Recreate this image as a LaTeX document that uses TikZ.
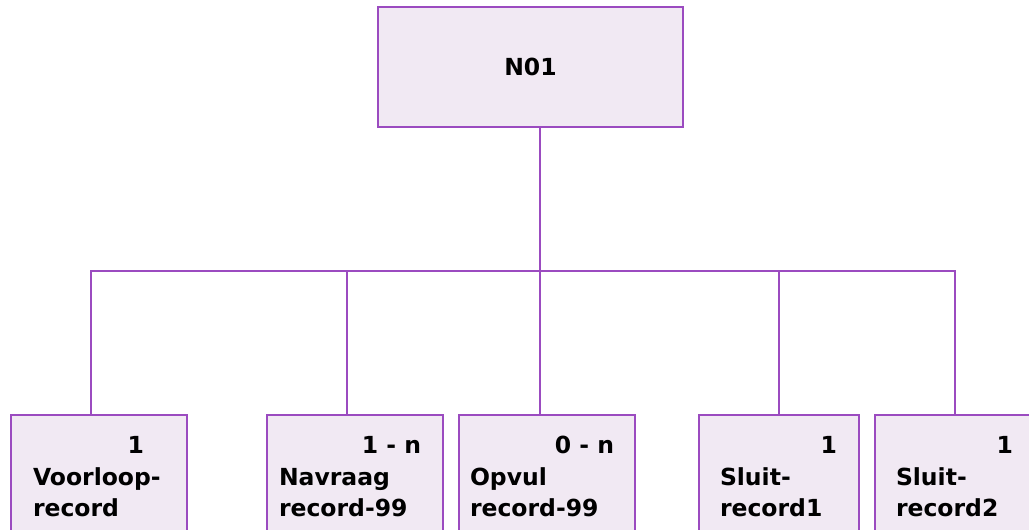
\documentclass[tikz,border=0pt]{standalone}
\usepackage{fontspec}
\setmainfont{DejaVu Sans}
\definecolor{lnpurple}{RGB}{155,75,192}
\definecolor{boxfill}{RGB}{241,233,243}
\begin{document}
\begin{tikzpicture}[x=1pt,y=-1pt,
  recbox/.style={draw=lnpurple,fill=boxfill,line width=2.4pt,inner sep=0pt,outer sep=0pt,rectangle},
  conn/.style={draw=lnpurple,line width=2.4pt},
  lbl/.style={inner sep=0pt,outer sep=0pt,font=\bfseries\fontsize{23.5}{23.5}\selectfont,text=black},
  num/.style={lbl,anchor=base east},
  nm/.style={lbl,anchor=base west}]
\useasboundingbox (0,0) rectangle (1029,530);
\clip (0,0) rectangle (1029,530);
% top box
\node[recbox,minimum width=305pt,minimum height=120pt,font=\bfseries\fontsize{23.5}{23.5}\selectfont] (top) at (530.5,67) {N01};
% bottom boxes
\node[recbox,minimum width=176pt,minimum height=130pt] (b1) at (99,480) {};
\node[recbox,minimum width=176pt,minimum height=130pt] (b2) at (355,480) {};
\node[recbox,minimum width=176pt,minimum height=130pt] (b3) at (547,480) {};
\node[recbox,minimum width=160pt,minimum height=130pt] (b4) at (779,480) {};
\node[recbox,minimum width=160pt,minimum height=130pt] (b5) at (955,480) {};
% connectors
\coordinate (bus) at (540,271);
\draw[conn] (top.south -| bus) -- (bus);
\draw[conn] ([xshift=-8pt]b1.north) |- (bus) -| (b5.north);
\draw[conn] (bus) -- (bus |- b3.north);
\draw[conn] ([xshift=-8pt]b2.north) -- ([xshift=-8pt]b2.north |- bus);
\draw[conn] (b4.north) -- (b4.north |- bus);
% texts
\node[num] (n1) at (144,453) {1};
\node[nm] (t1a) at (33,485) {Voorloop-};
\node[nm] (t1b) at (33,516) {record};
\node[num] (n2) at (421,453) {1 - n};
\node[nm] (t2a) at (279,485) {Navraag};
\node[nm] (t2b) at (279,516) {record-99};
\node[num] (n3) at (614,453) {0 - n};
\node[nm] (t3a) at (470,485) {Opvul};
\node[nm] (t3b) at (470,516) {record-99};
\node[num] (n4) at (837,453) {1};
\node[nm] (t4a) at (720,485) {Sluit-};
\node[nm] (t4b) at (720,516) {record1};
\node[num] (n5) at (1013,453) {1};
\node[nm] (t5a) at (896,485) {Sluit-};
\node[nm] (t5b) at (896,516) {record2};
\end{tikzpicture}
\end{document}
